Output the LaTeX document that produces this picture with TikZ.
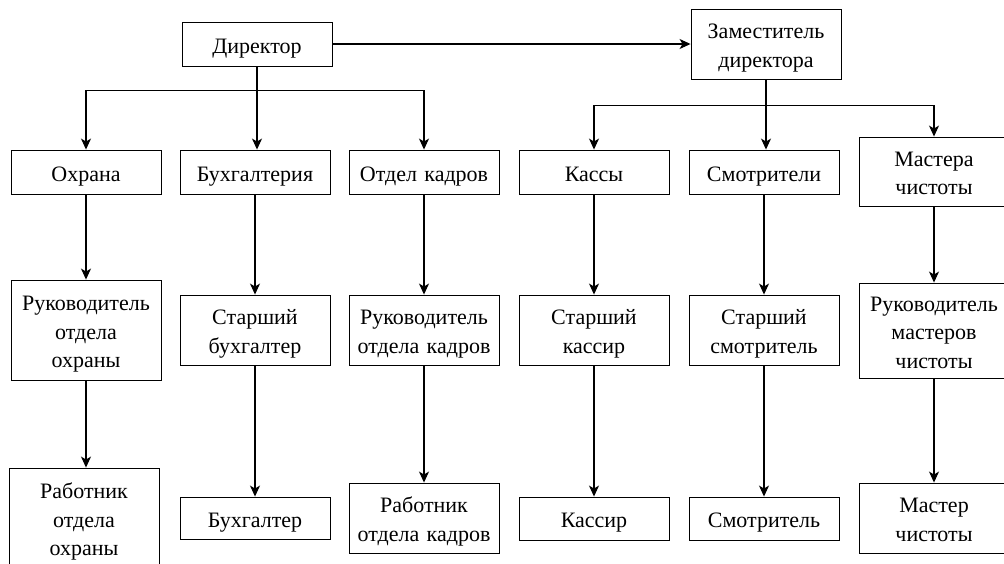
\documentclass[tikz,border=0pt]{standalone}
\usepackage{fontspec}
\setmainfont{Liberation Serif}
\usepackage{tikz}
\usetikzlibrary{arrows.meta}

\tikzset{
    unit/.style={
        draw,
        line width=0.9pt,
        minimum width=150pt,
        minimum height=44pt,
        text width=148pt,
        inner sep=1pt,
        align=center,
        font=\fontsize{22}{28.5}\selectfont,
        execute at begin node=\rule{0pt}{24pt},
        execute at end node=\rule[-6pt]{0pt}{6pt}
    },
    link/.style={
        line width=1.1pt,
        -{Stealth[length=11pt,width=10pt,inset=3pt]}
    }
}

\begin{document}
\begin{tikzpicture}[x=1pt,y=-1pt]

    %------------------------------------------------
    % Frame
    %------------------------------------------------

    \useasboundingbox (0,0) rectangle (1004,563);
    \clip (0,0) rectangle (1004,563);

    %------------------------------------------------
    % Top level
    %------------------------------------------------

    \node[unit] (dir) at (257,44) {Директор};

    \node[unit, minimum height=70pt] (dep) at (766,44)
        {Заместитель\\директора};

    %------------------------------------------------
    % Departments
    %------------------------------------------------

    \node[unit] (ohr) at (86,172) {Охрана};
    \node[unit] (buh) at (255,172) {Бухгалтерия};
    \node[unit] (kadr) at (424,172) {Отдел кадров};

    \node[unit] (kass) at (594,172) {Кассы};
    \node[unit] (smotr) at (764,172) {Смотрители};
    \node[unit, minimum height=69pt] (mast) at (934,171.5)
        {Мастера\\чистоты};

    %------------------------------------------------
    % Heads
    %------------------------------------------------

    \node[unit, minimum height=100pt] (rukohr) at (86,330)
        {Руководитель\\отдела\\охраны};
    \node[unit, minimum height=70pt] (stbuh) at (255,330)
        {Старший\\бухгалтер};
    \node[unit, minimum height=70pt] (rukkadr) at (424,330)
        {Руководитель\\отдела кадров};

    \node[unit, minimum height=70pt] (stkass) at (594,330)
        {Старший\\кассир};
    \node[unit, minimum height=70pt] (stsmotr) at (764,330)
        {Старший\\смотритель};
    \node[unit, minimum height=95pt] (rukmast) at (934,330.5)
        {Руководитель\\мастеров\\чистоты};

    %------------------------------------------------
    % Staff
    %------------------------------------------------

    \node[unit, minimum height=100pt] (rabohr) at (84,518)
        {Работник\\отдела\\охраны};
    \node[unit, minimum height=42pt] (bhg) at (255,518)
        {Бухгалтер};
    \node[unit, minimum height=70pt] (rabkadr) at (424,518)
        {Работник\\отдела кадров};

    \node[unit, minimum height=43pt] (kassir) at (594,518.5)
        {Кассир};
    \node[unit, minimum height=43pt] (smtr) at (764,518.5)
        {Смотритель};
    \node[unit, minimum height=70pt] (master) at (934,518)
        {Мастер\\чистоты};

    %------------------------------------------------
    % Links
    %------------------------------------------------

    \draw[link] (dir.east) -- (dep.west);

    \draw[link] (dir.south) -- ++(0,24) -| (ohr.north);
    \draw[link] (dir.south) -- (dir.south |- buh.north);
    \draw[link] (dir.south) -- ++(0,24) -| (kadr.north);

    \draw[link] (dep.south) -- ++(0,26) -| (kass.north);
    \draw[link] (dep.south) -- (dep.south |- smotr.north);
    \draw[link] (dep.south) -- ++(0,26) -| (mast.north);

    \draw[link] (ohr) -- (rukohr);
    \draw[link] (buh) -- (stbuh);
    \draw[link] (kadr) -- (rukkadr);
    \draw[link] (kass) -- (stkass);
    \draw[link] (smotr) -- (stsmotr);
    \draw[link] (mast) -- (rukmast);

    \draw[link] (rukohr.south) -- (rukohr.south |- rabohr.north);
    \draw[link] (stbuh) -- (bhg);
    \draw[link] (rukkadr) -- (rabkadr);
    \draw[link] (stkass) -- (kassir);
    \draw[link] (stsmotr) -- (smtr);
    \draw[link] (rukmast) -- (master);

\end{tikzpicture}
\end{document}
